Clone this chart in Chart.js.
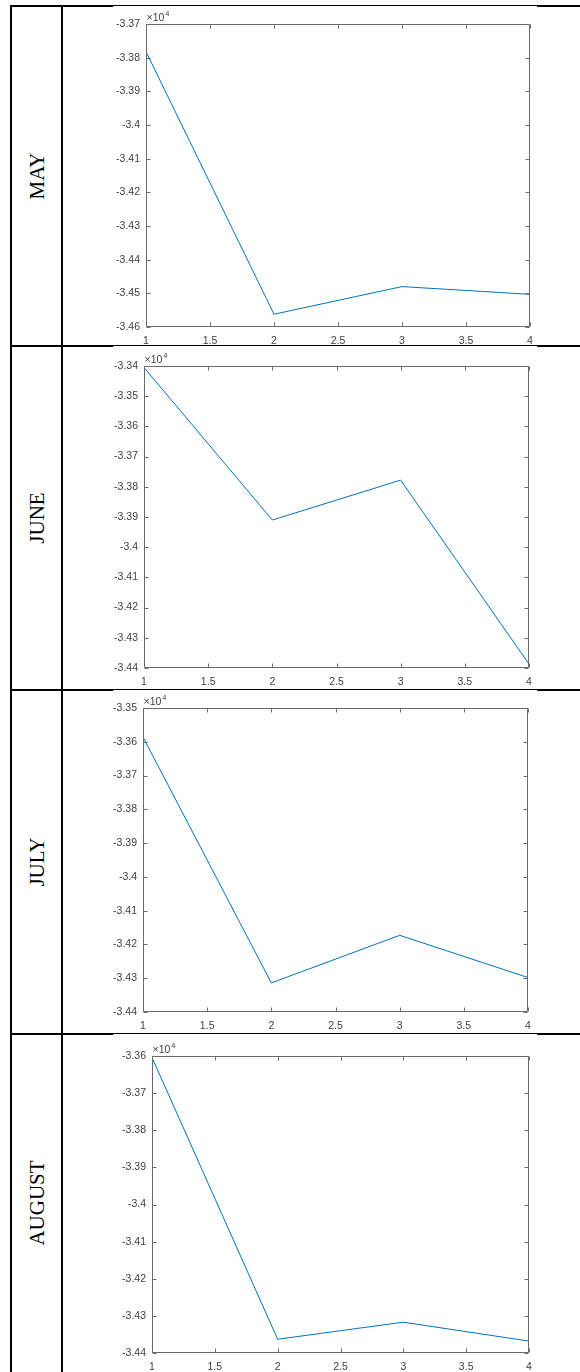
<!DOCTYPE html>
<html>
<head>
<meta charset="utf-8">
<script src="https://cdn.jsdelivr.net/npm/chart.js@4.4.1/dist/chart.umd.min.js"></script>
<style>
  body { margin: 0; width: 580px; height: 1372px; background: #fff; position: relative; overflow: hidden; }
  .ln { position: absolute; background: #000; }
  .month {
    position: absolute;
    font-family: "Liberation Serif", "Times New Roman", serif;
    font-size: 21px;
    color: #000;
    transform: translate(-50%, -50%) rotate(-90deg);
    white-space: nowrap;
  }
  canvas { position: absolute; }
</style>
</head>
<body>
<script>
// data
const months = ['MAY', 'JUNE', 'JULY', 'AUGUST'];
const xValues = [1, 2, 3, 4];
const mayValues = [-33782, -34562, -34480, -34503];
const juneValues = [-33405, -33910, -33778, -34387];
const julyValues = [-33586, -34314, -34173, -34298];
const augustValues = [-33604, -34363, -34317, -34368];
const yMins = [-34600, -34400, -34400, -34400];
const yMaxs = [-33700, -33400, -33500, -33600];
const yStep = 100;
const xStep = 0.5;
const expLabel = '\u00d710';
const expPower = '4';

const series = [mayValues, juneValues, julyValues, augustValues];

// page layout: table rows and plot boxes [left, top, right, bottom]
const rows = [[6, 346], [346, 690], [690, 1034], [1034, 1372]];
const boxes = [[146, 24, 530, 327], [144, 366, 529, 668], [143, 708, 528, 1012], [152, 1056, 529, 1353]];
const PADL = 60, PADT = 22, PADR = 14, PADB = 24;

const addLine = (x, y, w, h) => {
    const d = document.createElement('div');
    d.className = 'ln';
    Object.assign(d.style, { left: x + 'px', top: y + 'px', width: w + 'px', height: h + 'px' });
    document.body.appendChild(d);
};

const tickColor = '#404040';
const axisColor = '#6a6a6a';
const tickFont = { family: '"Liberation Sans", Arial, sans-serif', size: 10.5 };

// MATLAB-like box with inward ticks on all four sides
const matlabBox = {
    id: 'matlabBox',
    afterDraw(chart) {
        const { ctx, chartArea: a, scales: { x, y } } = chart;
        const L = Math.round(a.left) + 0.5, R = Math.round(a.right) - 0.5;
        const T = Math.round(a.top) + 0.5, B = Math.round(a.bottom) - 0.5;
        ctx.save();
        ctx.strokeStyle = axisColor;
        ctx.lineWidth = 1;
        ctx.beginPath();
        ctx.rect(L, T, R - L, B - T);
        x.ticks.forEach(t => {
            const px = Math.round(x.getPixelForValue(t.value)) + 0.5;
            ctx.moveTo(px, B); ctx.lineTo(px, B - 4);
            ctx.moveTo(px, T); ctx.lineTo(px, T + 4);
        });
        y.ticks.forEach(t => {
            const py = Math.round(y.getPixelForValue(t.value)) + 0.5;
            ctx.moveTo(L, py); ctx.lineTo(L + 4, py);
            ctx.moveTo(R, py); ctx.lineTo(R - 4, py);
        });
        ctx.stroke();

        // exponent label
        ctx.fillStyle = tickColor;
        ctx.textBaseline = 'alphabetic';
        ctx.textAlign = 'left';
        ctx.font = '10.5px "Liberation Sans", Arial, sans-serif';
        ctx.fillText(expLabel, L, T - 4);
        const w = ctx.measureText(expLabel).width;
        ctx.font = '7.5px "Liberation Sans", Arial, sans-serif';
        ctx.fillText(expPower, L + w + 1, T - 9);
        ctx.restore();
    }
};

const makeChart = (i) => {
    const [L, T, R, B] = boxes[i];
    const cv = document.createElement('canvas');
    const W = R - L + PADL + PADR, H = B - T + PADT + PADB;
    cv.width = W; cv.height = H;
    cv.style.left = (L - PADL) + 'px';
    cv.style.top = (T - PADT) + 'px';
    cv.style.width = W + 'px';
    cv.style.height = H + 'px';
    document.body.appendChild(cv);

    new Chart(cv.getContext('2d'), {
        type: 'line',
        data: {
            datasets: [{
                label: months[i],
                data: xValues.map((xv, k) => ({ x: xv, y: series[i][k] })),
                borderColor: '#0072BD',
                borderWidth: 1,
                pointRadius: 0,
                tension: 0,
                fill: false
            }]
        },
        options: {
            responsive: false,
            animation: false,
            devicePixelRatio: 1,
            layout: { padding: { left: 0, top: PADT, right: PADR, bottom: 0 } },
            plugins: { legend: { display: false }, tooltip: { enabled: false } },
            scales: {
                x: {
                    type: 'linear',
                    min: xValues[0],
                    max: xValues[xValues.length - 1],
                    border: { display: false },
                    grid: { display: false, drawTicks: false },
                    ticks: {
                        stepSize: xStep,
                        autoSkip: false,
                        maxRotation: 0,
                        padding: 8,
                        color: tickColor,
                        font: tickFont,
                        callback: v => String(+v.toFixed(1))
                    },
                    afterFit: s => { s.height = PADB; }
                },
                y: {
                    min: yMins[i],
                    max: yMaxs[i],
                    border: { display: false },
                    grid: { display: false, drawTicks: false },
                    ticks: {
                        stepSize: yStep,
                        autoSkip: false,
                        padding: 6,
                        color: tickColor,
                        font: tickFont,
                        callback: v => String(+(v / 1e4).toFixed(2))
                    },
                    afterFit: s => { s.width = PADL; }
                }
            }
        },
        plugins: [matlabBox]
    });
};

months.forEach((m, i) => {
    makeChart(i);
    const lab = document.createElement('div');
    lab.className = 'month';
    lab.textContent = m;
    lab.style.left = '37px';
    lab.style.top = ((rows[i][0] + rows[i][1]) / 2) + 'px';
    document.body.appendChild(lab);
});

// table lines
addLine(10, 5, 2, 1367);
addLine(61, 5, 2, 1367);
[5, 345, 689, 1033].forEach(y => {
    addLine(10, y, 103, 2);
    addLine(113, y, 424, 1);
    addLine(537, y, 43, 2);
});
</script>
</body>
</html>
